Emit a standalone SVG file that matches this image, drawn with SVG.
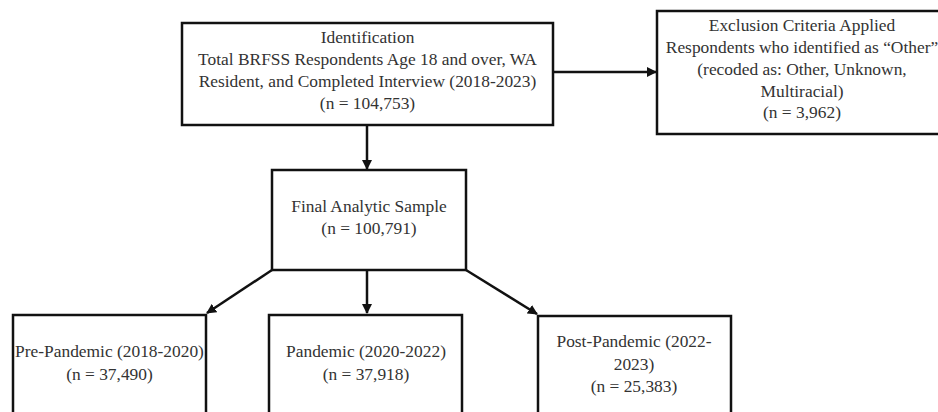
<svg xmlns="http://www.w3.org/2000/svg" width="938" height="412" viewBox="0 0 938 412">
<style>
.box{fill:#fff;stroke:#111;stroke-width:2.5}
.t{font-family:"Liberation Serif","Times New Roman",serif;font-size:17.4px;fill:#333;text-anchor:middle}
.c{stroke:#111;stroke-width:2.5;fill:none}
</style>
<defs>
<marker id="ah" viewBox="0 0 10 10" refX="9" refY="5" markerWidth="4" markerHeight="4" orient="auto" markerUnits="strokeWidth">
<path d="M0,0 L10,5 L0,10 z" fill="#111"/>
</marker>
</defs>
<rect width="938" height="412" fill="#fff"/>
<g id="connectors">
<line class="c" x1="553" y1="72" x2="656" y2="72" marker-end="url(#ah)"/>
<line class="c" x1="367" y1="125" x2="367" y2="169" marker-end="url(#ah)"/>
<line class="c" x1="272" y1="270" x2="207" y2="313" marker-end="url(#ah)"/>
<line class="c" x1="367" y1="270" x2="367" y2="313" marker-end="url(#ah)"/>
<line class="c" x1="466" y1="270" x2="537" y2="314" marker-end="url(#ah)"/>
</g>
<g id="identification">
<rect class="box" x="182" y="23" width="371" height="102"/>
<text class="t" x="367.5" y="43">Identification</text>
<text class="t" x="367.5" y="65">Total BRFSS Respondents Age 18 and over, WA</text>
<text class="t" x="367.5" y="87">Resident, and Completed Interview (2018-2023)</text>
<text class="t" x="367.5" y="109">(n = 104,753)</text>
</g>
<g id="exclusion">
<rect class="box" x="657" y="11" width="290" height="123"/>
<text class="t" x="802" y="31">Exclusion Criteria Applied</text>
<text class="t" x="802" y="53">Respondents who identified as “Other”</text>
<text class="t" x="802" y="75">(recoded as: Other, Unknown,</text>
<text class="t" x="802" y="97">Multiracial)</text>
<text class="t" x="802" y="118">(n = 3,962)</text>
</g>
<g id="final">
<rect class="box" x="272" y="170" width="194" height="100"/>
<text class="t" x="369" y="212">Final Analytic Sample</text>
<text class="t" x="369" y="234">(n = 100,791)</text>
</g>
<g id="pre">
<rect class="box" x="13" y="315" width="193" height="110"/>
<text class="t" x="109.5" y="357">Pre-Pandemic (2018-2020)</text>
<text class="t" x="109.5" y="380">(n = 37,490)</text>
</g>
<g id="pandemic">
<rect class="box" x="269" y="315" width="193" height="110"/>
<text class="t" x="366" y="357">Pandemic (2020-2022)</text>
<text class="t" x="366" y="380">(n = 37,918)</text>
</g>
<g id="post">
<rect class="box" x="538" y="316" width="193" height="110"/>
<text class="t" x="634" y="347">Post-Pandemic (2022-</text>
<text class="t" x="634" y="370">2023)</text>
<text class="t" x="634" y="392">(n = 25,383)</text>
</g>
</svg>
